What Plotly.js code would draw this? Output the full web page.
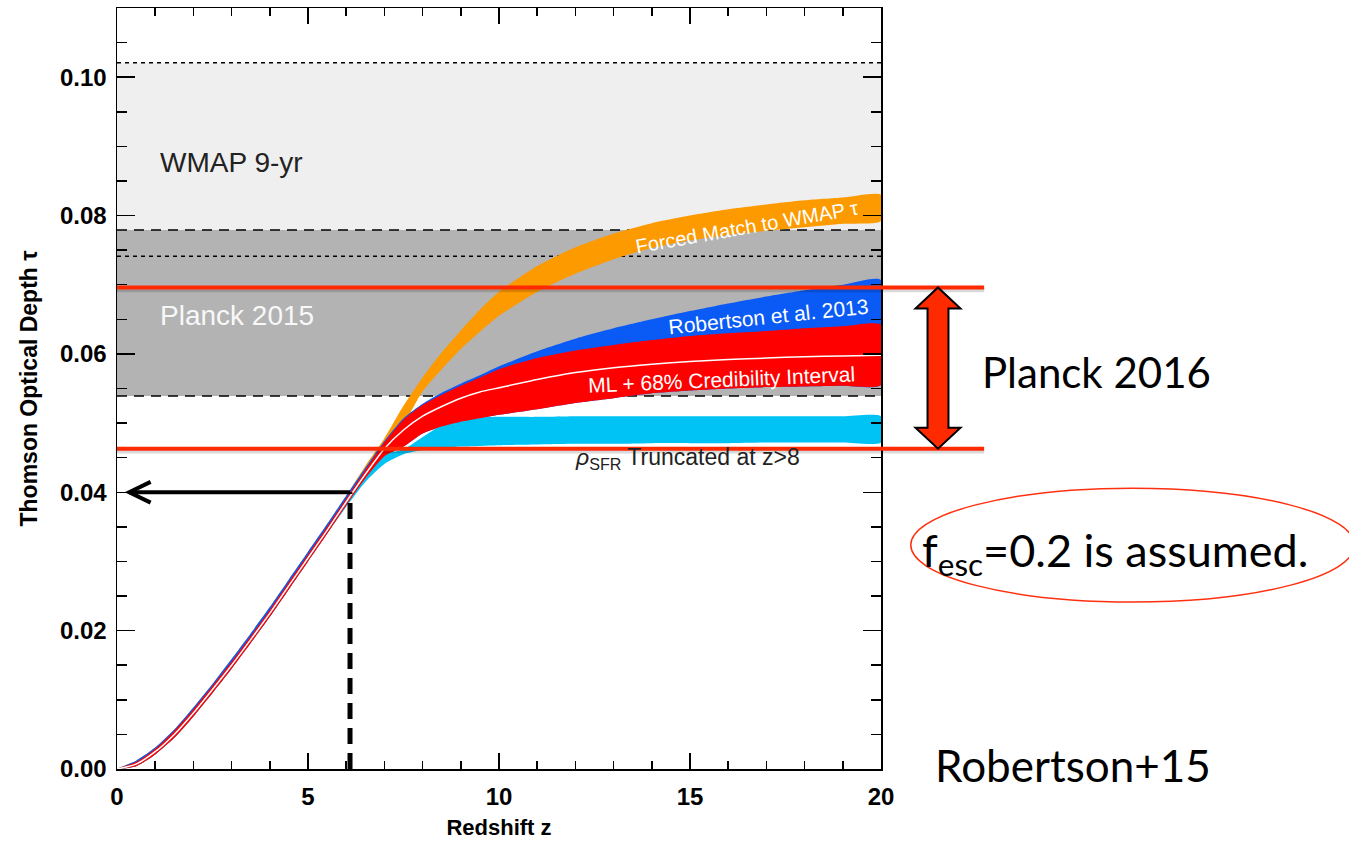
<!DOCTYPE html>
<html>
<head>
<meta charset="utf-8">
<script src="https://cdn.plot.ly/plotly-3.0.1.min.js"></script>
<style>html,body{margin:0;padding:0;background:#fff;}#chart{width:1349px;height:842px;}</style>
</head>
<body>
<div id="chart"></div>
<script>
// ---- data ----
const z = [0,0.5,1,1.5,2,2.5,3,3.5,4,4.5,5,5.5,6,6.5,7,7.5,8,8.5,9,9.5,10,11,12,13,14,15,16,17,18,19,20];
const mlTau   = [0,0.0007,0.0025,0.005,0.0081,0.0115,0.015,0.0187,0.0225,0.0265,0.0305,0.0345,0.0386,0.0426,0.0463,0.049,0.051,0.0524,0.0536,0.0545,0.0551,0.0563,0.0573,0.058,0.0585,0.0589,0.0592,0.0594,0.0596,0.0597,0.0598];
const mlHi    = [0,0.001,0.0029,0.0055,0.0086,0.012,0.0155,0.0192,0.023,0.027,0.031,0.035,0.0391,0.0432,0.0472,0.0505,0.0526,0.0541,0.0554,0.0566,0.0578,0.0594,0.0605,0.0613,0.062,0.0626,0.063,0.0633,0.0637,0.064,0.0642];
const mlLo    = [0,0.0004,0.0021,0.0045,0.0076,0.011,0.0145,0.0182,0.022,0.026,0.03,0.034,0.0381,0.042,0.0452,0.0466,0.0485,0.0495,0.0502,0.0507,0.0512,0.052,0.0529,0.0536,0.0543,0.0547,0.055,0.0552,0.0553,0.0554,0.0555];
const rob13Hi = [0,0.0012,0.0031,0.0057,0.0089,0.0123,0.0159,0.0196,0.0234,0.0274,0.0314,0.0354,0.0395,0.0435,0.0474,0.0507,0.0528,0.0544,0.0557,0.0569,0.0582,0.0604,0.0622,0.0637,0.065,0.0662,0.0673,0.0683,0.0692,0.07,0.0707];
const rob13Lo = [0,0.0004,0.0021,0.0045,0.0076,0.011,0.0145,0.0182,0.022,0.026,0.03,0.034,0.0381,0.042,0.0452,0.0466,0.0485,0.0495,0.0502,0.0507,0.0512,0.052,0.0529,0.0536,0.0543,0.0547,0.055,0.0552,0.0553,0.0554,0.0555];
const wmapMatchHi = [0,0.0012,0.0031,0.0057,0.0089,0.0123,0.0159,0.0196,0.0234,0.0274,0.0314,0.0354,0.0395,0.0438,0.0478,0.0525,0.0566,0.0602,0.0634,0.0664,0.069,0.0727,0.0754,0.0774,0.0789,0.08,0.0809,0.0816,0.0822,0.0826,0.083];
const wmapMatchLo = [0,0.0004,0.0021,0.0045,0.0076,0.011,0.0145,0.0182,0.022,0.026,0.03,0.034,0.0381,0.0426,0.0455,0.0497,0.0546,0.0578,0.0607,0.0632,0.0655,0.069,0.0716,0.0737,0.0753,0.0764,0.0772,0.0778,0.0783,0.0788,0.0792];
const truncHi = [0,0.0007,0.0025,0.005,0.0081,0.0115,0.015,0.0187,0.0225,0.0265,0.0305,0.0345,0.0386,0.0426,0.0455,0.0462,0.048,0.0497,0.0505,0.0508,0.0509,0.0509,0.051,0.051,0.051,0.051,0.051,0.051,0.051,0.051,0.051];
const truncLo = [0,0.0004,0.0021,0.0045,0.0076,0.011,0.0145,0.0182,0.022,0.026,0.03,0.034,0.0379,0.0415,0.0441,0.0455,0.0461,0.0464,0.0466,0.0467,0.0468,0.0469,0.047,0.047,0.0471,0.0471,0.0471,0.0472,0.0472,0.0472,0.0472];
const wmap9 = [0.0741, 0.1021];      // WMAP 9-yr band
const planck15 = [0.0539, 0.0779];   // Planck 2015 band
const planck16 = [0.0463, 0.0696];   // Planck 2016 limits (red lines)
const readZ = 6.1, readTau = 0.04;   // black reading arrow
const xTicks = [0,5,10,15,20];
const yTicks = [0,0.02,0.04,0.06,0.08,0.10];

// ---- helpers ----
function band(hi, lo, color){
  return {x: z.concat(z.slice().reverse()), y: hi.concat(lo.slice().reverse()),
          type:'scatter', mode:'lines', fill:'toself', fillcolor:color,
          line:{width:0, color:color, shape:'spline', smoothing:0.6}, hoverinfo:'skip'};
}
const traces = [
  band(wmapMatchHi, wmapMatchLo, '#fd9a00'),
  band(rob13Hi, rob13Lo, '#0a5af5'),
  band(truncHi, truncLo, '#00c3f5'),
  band(mlHi, mlLo, '#ff0000'),
  {x:z, y:mlTau, type:'scatter', mode:'lines', line:{color:'#ffffff', width:1.5, shape:'spline', smoothing:0.6}, hoverinfo:'skip'}
];

const red = '#ff2a00';
const shapes = [
  {type:'rect', xref:'paper', x0:0, x1:1, yref:'y', y0:wmap9[0], y1:wmap9[1], fillcolor:'#efefef', line:{width:0}, layer:'below'},
  {type:'rect', xref:'paper', x0:0, x1:1, yref:'y', y0:planck15[0], y1:planck15[1], fillcolor:'#b3b3b3', line:{width:0}, layer:'below'},
  {type:'line', xref:'paper', x0:0, x1:1, yref:'y', y0:wmap9[1], y1:wmap9[1], line:{color:'#000', width:1.5, dash:'4px,4px'}, layer:'below'},
  {type:'line', xref:'paper', x0:0, x1:1, yref:'y', y0:wmap9[0], y1:wmap9[0], line:{color:'#000', width:1.5, dash:'4px,4px'}, layer:'below'},
  {type:'line', xref:'paper', x0:0, x1:1, yref:'y', y0:planck15[1], y1:planck15[1], line:{color:'#000', width:1.5, dash:'10px,7px'}, layer:'below'},
  {type:'line', xref:'paper', x0:0, x1:1, yref:'y', y0:planck15[0], y1:planck15[0], line:{color:'#000', width:1.5, dash:'10px,7px'}, layer:'below'},
  // shadows of red lines
  {type:'line', xref:'paper', x0:0, x1:1.135, yref:'y', y0:planck16[0]-0.0004, y1:planck16[0]-0.0004, line:{color:'rgba(0,0,0,0.15)', width:4}},
  {type:'line', xref:'paper', x0:0, x1:1.135, yref:'y', y0:planck16[1]-0.0004, y1:planck16[1]-0.0004, line:{color:'rgba(0,0,0,0.15)', width:4}},
  {type:'line', xref:'paper', x0:0, x1:1.135, yref:'y', y0:planck16[0], y1:planck16[0], line:{color:red, width:4}},
  {type:'line', xref:'paper', x0:0, x1:1.135, yref:'y', y0:planck16[1], y1:planck16[1], line:{color:red, width:4}},
  // black reading arrow
  {type:'line', x0:readZ, x1:readZ, y0:0, y1:readTau, line:{color:'#000', width:5, dash:'16px,9px'}},
  {type:'line', x0:0.32, x1:readZ, y0:readTau, y1:readTau, line:{color:'#000', width:4}},
  {type:'path', path:'M0.88,'+(readTau+0.0015)+' L0.32,'+readTau+' L0.88,'+(readTau-0.0015), line:{color:'#000', width:4}},
];
// double arrow for Planck 2016
(function(){
  const cx=1.0746, hw=0.0294, sw=0.0137, hh=0.00303, top=planck16[1], bot=planck16[0];
  const p = 'M'+cx+','+top+' L'+(cx+hw)+','+(top-hh)+' L'+(cx+sw)+','+(top-hh)+' L'+(cx+sw)+','+(bot+hh)+
            ' L'+(cx+hw)+','+(bot+hh)+' L'+cx+','+bot+' L'+(cx-hw)+','+(bot+hh)+' L'+(cx-sw)+','+(bot+hh)+
            ' L'+(cx-sw)+','+(top-hh)+' L'+(cx-hw)+','+(top-hh)+' Z';
  shapes.push({type:'path', xref:'paper', yref:'y', path:p, fillcolor:red, line:{color:'#000', width:2}});
})();
shapes.push({type:'circle', xref:'paper', yref:'paper', x0:1.039, x1:1.62, y0:0.2194, y1:0.369, line:{color:'#ff3010', width:1.5}});

const sans = 'Liberation Sans, Arial, sans-serif';
const cal = 'Lato, Open Sans, sans-serif';
const annotations = [
  {x:1.07, y:0.0876, xanchor:'left', yanchor:'middle', text:'WMAP 9-yr', showarrow:false, font:{family:sans, size:28, color:'#222'}},
  {x:1.07, y:0.0656, xanchor:'left', yanchor:'middle', text:'Planck 2015', showarrow:false, font:{family:sans, size:28, color:'#f8f8f8'}},
  {x:16.48, y:0.0784, text:'Forced Match to WMAP τ', textangle:-10, showarrow:false, font:{family:sans, size:20, color:'#fff'}},
  {x:17.05, y:0.06546, text:'Robertson et al. 2013', textangle:-6, showarrow:false, font:{family:sans, size:21, color:'#fff'}},
  {x:15.83, y:0.05636, text:'ML + 68% Credibility Interval', textangle:-2.5, showarrow:false, font:{family:sans, size:21, color:'#fff'}},
  {x:11.94, y:0.0449, xanchor:'left', yanchor:'middle', text:'<i>ρ</i><sub>SFR</sub> Truncated at z&gt;8', showarrow:false, font:{family:sans, size:23, color:'#222'}},
  {xref:'paper', yref:'paper', x:1.1296, y:0.5217, xanchor:'left', yanchor:'middle', text:'Planck 2016', showarrow:false, font:{family:cal, size:42, color:'#000'}},
  {xref:'paper', yref:'paper', x:1.051, y:0.2838, xanchor:'left', yanchor:'middle', text:'f<sub>esc</sub>=0.2 is assumed.', showarrow:false, font:{family:cal, size:45, color:'#000'}},
  {xref:'paper', yref:'paper', x:1.068, y:0.005, xanchor:'left', yanchor:'middle', text:'Robertson+15', showarrow:false, font:{family:cal, size:44, color:'#000'}},
];

const axisCommon = {showline:true, linecolor:'#000', linewidth:1.5, mirror:'ticks', ticks:'inside', tickcolor:'#000', tickwidth:1.5,
  showgrid:false, zeroline:false, tickfont:{family:sans, size:24, color:'#000', weight:'bold'}};

const layout = {
  width:1349, height:842, margin:{l:117, r:468, t:8, b:73},
  paper_bgcolor:'#fff', plot_bgcolor:'#fff', showlegend:false,
  xaxis: Object.assign({}, axisCommon, {range:[0,20], tickvals:xTicks, ticktext:xTicks.map(String), ticklen:16, ticklabelstandoff:6,
    minor:{dtick:1, ticklen:8, tickwidth:1.5, tickcolor:'#000', ticks:'inside'},
    title:{text:'Redshift z', font:{family:sans, size:22, color:'#000', weight:'bold'}, standoff:10}}),
  yaxis: Object.assign({}, axisCommon, {range:[0,0.11], tickvals:yTicks, ticktext:yTicks.map(v=>v.toFixed(2)), ticklen:18, ticklabelstandoff:4,
    minor:{dtick:0.005, ticklen:10, tickwidth:1.5, tickcolor:'#000', ticks:'inside'},
    title:{text:'Thomson Optical Depth τ', font:{family:sans, size:23, color:'#000', weight:'bold'}, standoff:16}}),
  shapes: shapes, annotations: annotations
};

Plotly.newPlot('chart', traces, layout, {staticPlot:true, displayModeBar:false});
</script>
</body>
</html>
